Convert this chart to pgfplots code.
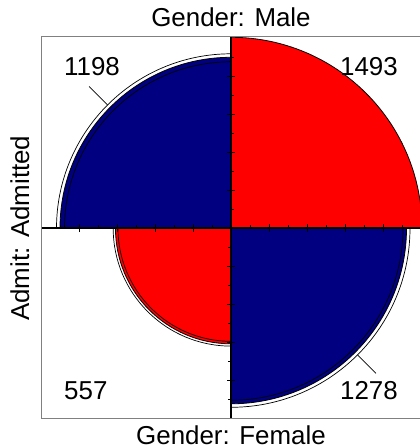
\documentclass[border=0pt]{standalone}
\usepackage{fontspec}
\setmainfont{Liberation Sans}
\usepackage{pgfplots}
\pgfplotsset{compat=1.18}
\definecolor{ffblue}{HTML}{000080}
\definecolor{ffred}{HTML}{FF0000}
\definecolor{boxgray}{HTML}{808080}

% centre of the display (axis units = bp, y upwards)
\def\cx{231}
\def\cy{219.7}
% quadrant radii: lower ring, fill, upper ring
\def\rTLlo{166.5}\def\rTL{171}\def\rTLhi{174.5}
\def\rTR{191}
\def\rBLlo{113}\def\rBL{115.5}\def\rBLhi{117.8}
\def\rBRlo{172}\def\rBR{175.5}\def\rBRhi{179}

\begin{document}
\begin{tikzpicture}
\begin{axis}[
  width=420bp, height=448bp, scale only axis,
  xmin=0, xmax=420, ymin=0, ymax=448,
  hide axis, clip=true,
]
% quarter circles (Admitted/Male 1198, Rejected/Male 1493, Admitted/Female 557, Rejected/Female 1278)
\fill[ffblue, draw=black, line width=0.8bp] (axis cs:\cx,\cy) -- ++(0,\rTL bp) arc[start angle=90, end angle=180, radius=\rTL bp] -- cycle;
\fill[ffred, draw=black, line width=0.8bp] (axis cs:\cx,\cy) -- ++(0,\rTR bp) arc[start angle=90, end angle=0, radius=\rTR bp] -- cycle;
\fill[ffred, draw=black, line width=0.8bp] (axis cs:\cx,\cy) -- ++(-\rBL bp,0) arc[start angle=180, end angle=270, radius=\rBL bp] -- cycle;
\fill[ffblue, draw=black, line width=0.8bp] (axis cs:\cx,\cy) -- ++(0,-\rBR bp) arc[start angle=270, end angle=360, radius=\rBR bp] -- cycle;
% confidence rings
\draw[line width=0.7bp] (axis cs:\cx,\cy) ++(0,\rTLlo bp) arc[start angle=90, end angle=180, radius=\rTLlo bp];
\draw[line width=0.7bp] (axis cs:\cx,\cy) ++(0,\rTLhi bp) arc[start angle=90, end angle=180, radius=\rTLhi bp];
\draw[line width=0.7bp] (axis cs:\cx,\cy) ++(-\rBLlo bp,0) arc[start angle=180, end angle=270, radius=\rBLlo bp];
\draw[line width=0.7bp] (axis cs:\cx,\cy) ++(-\rBLhi bp,0) arc[start angle=180, end angle=270, radius=\rBLhi bp];
\draw[line width=0.7bp] (axis cs:\cx,\cy) ++(0,-\rBRlo bp) arc[start angle=270, end angle=360, radius=\rBRlo bp];
\draw[line width=0.7bp] (axis cs:\cx,\cy) ++(0,-\rBRhi bp) arc[start angle=270, end angle=360, radius=\rBRhi bp];
% axes through the centre
\draw[line width=1.7bp] (axis cs:41,\cy) -- (axis cs:421,\cy);
\draw[line width=1.7bp] (axis cs:\cx,29) -- (axis cs:\cx,411);
% tick marks
\pgfplotsinvokeforeach{2,4,6,8}{
  \draw[line width=0.9bp] (axis cs:\cx-3.8,{\cy+19*#1}) -- (axis cs:\cx+3.8,{\cy+19*#1});
  \draw[line width=0.9bp] (axis cs:\cx-3.8,{\cy-19*#1}) -- (axis cs:\cx+3.8,{\cy-19*#1});
  \draw[line width=0.9bp] (axis cs:{\cx-19*#1},\cy-3.8) -- (axis cs:{\cx-19*#1},\cy+3.8);
  \draw[line width=0.9bp] (axis cs:{\cx+19*#1},\cy-3.8) -- (axis cs:{\cx+19*#1},\cy+3.8);
}
\pgfplotsinvokeforeach{1,3,5,7,9}{
  \draw[line width=0.9bp] (axis cs:\cx,{\cy+19*#1}) -- (axis cs:\cx+3,{\cy+19*#1});
  \draw[line width=0.9bp] (axis cs:\cx-3,{\cy-19*#1}) -- (axis cs:\cx,{\cy-19*#1});
  \draw[line width=0.9bp] (axis cs:{\cx-19*#1},\cy) -- (axis cs:{\cx-19*#1},\cy+3);
  \draw[line width=0.9bp] (axis cs:{\cx+19*#1},\cy) -- (axis cs:{\cx+19*#1},\cy+3);
}
% frame
\draw[boxgray, line width=1bp] (axis cs:41,29) rectangle (axis cs:421,411);
% leader lines
\draw[line width=0.7bp] (axis cs:89.2,361.5) -- (axis cs:107.6,343.1);
\draw[line width=0.7bp] (axis cs:357.6,93.1) -- (axis cs:376,74.7);
% texts
\node[font=\fontsize{26}{30}\selectfont, anchor=base, inner sep=0pt] at (axis cs:\cx,421) {Gender: Male};
\node[font=\fontsize{26}{30}\selectfont, anchor=base, inner sep=0pt] at (axis cs:\cx,4) {Gender: Female};
\node[font=\fontsize{26}{30}\selectfont, anchor=base, rotate=90, inner sep=0pt] at (axis cs:29,\cy) {Admit: Admitted};
\node[font=\fontsize{26}{30}\selectfont, anchor=base west, inner sep=0pt] at (axis cs:64,372) {1198};
\node[font=\fontsize{26}{30}\selectfont, anchor=base east, inner sep=0pt] at (axis cs:398,372) {1493};
\node[font=\fontsize{26}{30}\selectfont, anchor=base west, inner sep=0pt] at (axis cs:64,48) {557};
\node[font=\fontsize{26}{30}\selectfont, anchor=base east, inner sep=0pt] at (axis cs:398,48) {1278};
\end{axis}
\pgfresetboundingbox
\path (current axis.south west) rectangle (current axis.north east);
\end{tikzpicture}
\end{document}
